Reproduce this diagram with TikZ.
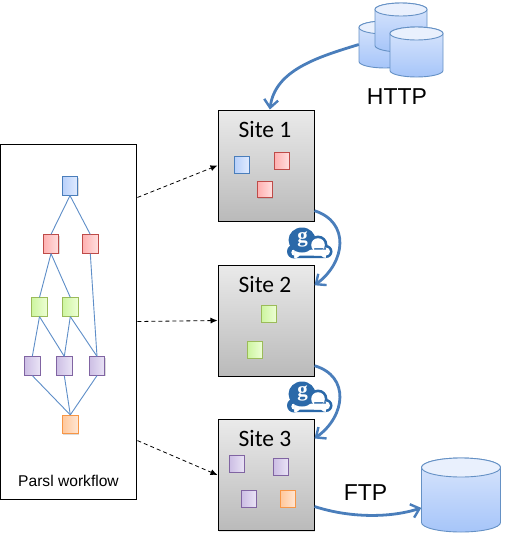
\documentclass[tikz,border=0pt]{standalone}
\usepackage{fontspec}
\setmainfont{Liberation Sans}
\newfontfamily\sitefont{Carlito}
\newfontfamily\gfont{Liberation Serif}
\usetikzlibrary{arrows.meta,shadows}
\definecolor{flowblue}{HTML}{4A7EBB}
\definecolor{edgeblue}{HTML}{5E8EC8}
\definecolor{logoblue}{HTML}{2B69A9}
\tikzset{
  x=1pt,y=-1pt,
  task/.style={draw,line width=0.9pt,inner sep=0pt,minimum width=15.8pt,minimum height=18.3pt,
    drop shadow={opacity=0.28,shadow xshift=0.8pt,shadow yshift=-1pt}},
  sitetask/.style={minimum width=15pt,minimum height=16.6pt},
  bluetask/.style={task,draw=flowblue,
     left color={rgb,255:red,184;green,208;blue,250},right color={rgb,255:red,226;green,236;blue,255}},
  redtask/.style={task,draw={rgb,255:red,190;green,75;blue,72},
     left color={rgb,255:red,255;green,176;blue,176},right color={rgb,255:red,255;green,224;blue,224}},
  greentask/.style={task,draw={rgb,255:red,155;green,187;blue,89},
     left color={rgb,255:red,205;green,245;blue,160},right color={rgb,255:red,238;green,255;blue,214}},
  purpletask/.style={task,draw={rgb,255:red,128;green,100;blue,162},
     left color={rgb,255:red,204;green,190;blue,228},right color={rgb,255:red,234;green,228;blue,246}},
  orangetask/.style={task,draw={rgb,255:red,247;green,150;blue,70},
     left color={rgb,255:red,255;green,200;blue,156},right color={rgb,255:red,255;green,230;blue,212}},
  sitebox/.style={draw=black,line width=1pt,minimum width=96pt,minimum height=111pt,inner sep=0pt,
     top color={rgb,255:red,234;green,234;blue,234},bottom color={rgb,255:red,186;green,186;blue,186},
     drop shadow={opacity=0.2,shadow xshift=1pt,shadow yshift=-1.2pt}},
  sitelabel/.style={font=\sitefont\fontsize{23.5}{26}\selectfont,text=black,inner sep=0pt},
  protolabel/.style={font=\fontsize{23}{26}\selectfont,text=black,inner sep=0pt},
  dagedge/.style={draw=edgeblue,line width=0.9pt},
  dashlink/.style={draw=black,line width=0.8pt,dash pattern=on 4pt off 3pt,-{Latex[length=7pt,width=6pt]}},
  flowlink/.style={draw=flowblue,line width=2.8pt,-{Straight Barb[length=8pt,width=14pt,line width=2.4pt]}},
  cylbody/.style={draw=flowblue!85!white,line width=0.9pt,top color={rgb,255:red,218;green,230;blue,252},bottom color={rgb,255:red,166;green,197;blue,249}},
  cyltop/.style={draw=flowblue!85!white,line width=0.9pt,fill={rgb,255:red,233;green,240;blue,253}},
}
\newcommand{\cyl}[6]{% name, cx, cy, half width, half height between ellipse centres, ellipse radius
  \begin{scope}[shift={(#2,#3)},x=1pt,y=1pt]
    \path[cylbody] (-#4,#5) -- (-#4,-#5) arc[start angle=180,end angle=360,x radius=#4,y radius=#6] -- (#4,#5) arc[start angle=0,end angle=180,x radius=#4,y radius=#6] -- cycle;
    \path[cyltop] (0,#5) circle[x radius=#4,y radius=#6];
    \node[inner sep=0pt,minimum width=2*#4 pt,minimum height={2*(#5+#6)*1pt}] (#1) at (0,0) {};
  \end{scope}}
\newcommand{\globuslogo}[3]{% name, x offset, y offset
  \begin{scope}[shift={(#2,#3)}]
    \fill[logoblue] (318,245) circle[radius=9.5] (326,251.5) circle[radius=6.5] (294,251.5) circle[radius=7] (294,251) rectangle (326,258);
    \fill[white] (294.5,252.5) circle[radius=3.2] (294.5,249.5) rectangle (326,255.6);
    \fill[logoblue] (302,240) circle[x radius=13.5,y radius=12.5];
    \fill[white] (318,245) circle[radius=6.8] (326,251.5) circle[radius=4] (314,248) rectangle (326,255.6);
    \node[font=\gfont\bfseries\fontsize{21}{21}\selectfont,text=white,inner sep=0pt] (#1) at (302.5,239) {g};
  \end{scope}}
\begin{document}
\begin{tikzpicture}
\useasboundingbox (0,0) rectangle (507,539);
% workflow panel
\node[draw=black,line width=1pt,fill=white,minimum width=136.5pt,minimum height=355pt,inner sep=0pt] (panel) at (68.7,321.5) {};
\node[font=\fontsize{15.6}{18}\selectfont,inner sep=0pt] (paneltext) at (68.5,481) {Parsl workflow};
% workflow tasks
\node[bluetask] (a) at (70,186) {};
\node[redtask] (b1) at (51,244) {};
\node[redtask] (b2) at (90.3,244) {};
\node[greentask] (c1) at (39.5,307) {};
\node[greentask] (c2) at (70.3,307) {};
\node[purpletask] (d1) at (32.3,366) {};
\node[purpletask] (d2) at (64.3,366) {};
\node[purpletask] (d3) at (97,366) {};
\node[orangetask] (e) at (70.3,424.5) {};
\foreach \p/\q in {a/b1,a/b2,b1/c1,b1/c2,b2/d3,c1/d1,c1/d2,c2/d2,c2/d3,d1/e,d2/e,d3/e}
  \draw[dagedge] (\p.south) -- (\q.north);
% sites
\node[sitebox] (site1) at (266,165.5) {};
\node[sitebox] (site2) at (266,320.5) {};
\node[sitebox] (site3) at (266,475) {};
\node[sitelabel] (s1t) at (265,129) {Site 1};
\node[sitelabel] (s2t) at (265,284) {Site 2};
\node[sitelabel] (s3t) at (265,438.5) {Site 3};
\node[bluetask,sitetask] (s1a) at (242,165) {};
\node[redtask,sitetask] (s1b) at (282,161) {};
\node[redtask,sitetask] (s1c) at (265,189.5) {};
\node[greentask,sitetask] (s2a) at (269,314) {};
\node[greentask,sitetask] (s2b) at (255,350) {};
\node[purpletask,sitetask] (s3a) at (237,464) {};
\node[purpletask,sitetask] (s3b) at (281,467) {};
\node[purpletask,sitetask] (s3c) at (249,499) {};
\node[orangetask,sitetask] (s3d) at (288,499) {};
% databases
\cyl{dbleft}{385}{44.5}{26}{17}{6.5}
\cyl{dbback}{401}{27.5}{26}{18}{6.5}
\cyl{dbfront}{416.5}{52}{26.5}{18.5}{6.5}
\cyl{dbftp}{461}{495}{39.5}{27.5}{9.5}
\node[protolabel] (http) at (397,97) {HTTP};
\node[protolabel] (ftp) at (365.5,493) {FTP};
% logos
\globuslogo{logoa}{0}{0}
\globuslogo{logob}{0}{154}
% dashed links
\draw[dashlink] (panel.61) -- (site1.west);
\draw[dashlink] (panel.east) -- (site2.west);
\draw[dashlink] (panel.-60) -- (site3.west);
% transfers
\draw[flowlink] (dbleft.west) .. controls (318,57) and (275,70) .. (site1.86);
\draw[flowlink] (site1.-43) .. controls (350,222) and (346,262) .. (site2.36);
\draw[flowlink] (site2.-43) .. controls (350,376) and (346,416) .. (site3.37);
\draw[flowlink] (site3.-33) .. controls (350,518) and (390,518) .. (dbftp.198);
\end{tikzpicture}
\end{document}
